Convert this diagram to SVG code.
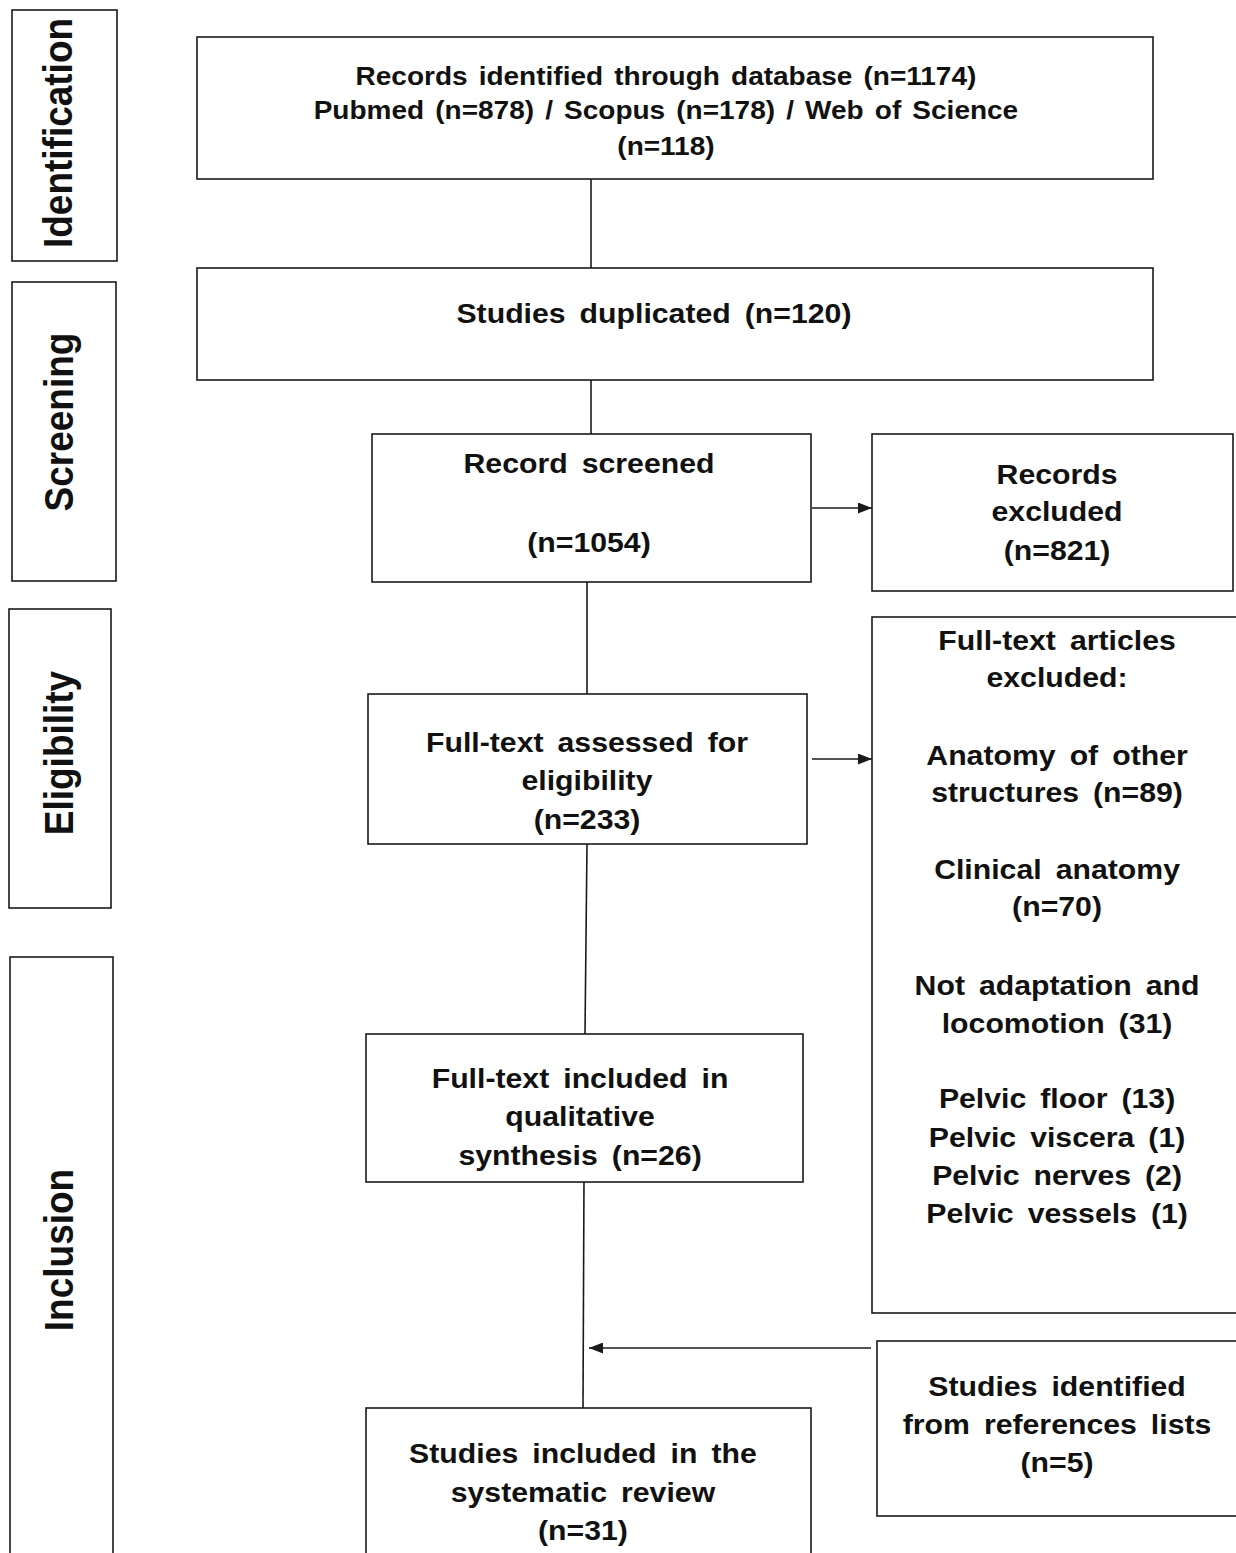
<svg xmlns="http://www.w3.org/2000/svg" width="1236" height="1553" viewBox="0 0 1236 1553">
<style>
.box{fill:#fff;stroke:#1a1a1a;stroke-width:1.6}
.t{font-family:"Liberation Sans",Arial,sans-serif;font-weight:bold;font-size:27px;fill:#111;text-anchor:middle;word-spacing:5px}
.t1{font-size:25px;word-spacing:3px}
.ph{font-family:"Liberation Sans",Arial,sans-serif;font-weight:bold;font-size:37px;fill:#111;text-anchor:middle}
.ln{stroke:#1a1a1a;stroke-width:1.6;fill:none}
</style>
<defs>
<marker id="ah" viewBox="0 0 14 11" refX="14" refY="5.5" markerWidth="14" markerHeight="11" markerUnits="userSpaceOnUse" orient="auto">
<path d="M0,0 L14,5.5 L0,11 Z" fill="#1a1a1a"/>
</marker>
</defs>
<rect width="1236" height="1553" fill="#fff"/>

<g id="phase-identification">
<rect class="box" x="12" y="10" width="105" height="251"/>
<text class="ph" transform="translate(72,133) scale(1.12,1) rotate(-90)">Identification</text>
</g>
<g id="phase-screening">
<rect class="box" x="12" y="282" width="104" height="299"/>
<text class="ph" transform="translate(73,422) scale(1.12,1) rotate(-90)">Screening</text>
</g>
<g id="phase-eligibility">
<rect class="box" x="9" y="609" width="102" height="299"/>
<text class="ph" transform="translate(73,753) scale(1.12,1) rotate(-90)">Eligibility</text>
</g>
<g id="phase-inclusion">
<rect class="box" x="10" y="957" width="103" height="620"/>
<text class="ph" transform="translate(73,1250) scale(1.12,1) rotate(-90)">Inclusion</text>
</g>

<g id="connectors">
<line class="ln" x1="591" y1="179" x2="591" y2="268"/>
<line class="ln" x1="591" y1="380" x2="591" y2="434"/>
<line class="ln" x1="587" y1="582" x2="587" y2="694"/>
<line class="ln" x1="587" y1="844" x2="585" y2="1034"/>
<line class="ln" x1="584" y1="1177" x2="583" y2="1408"/>
<line class="ln" x1="812" y1="508" x2="872" y2="508" marker-end="url(#ah)"/>
<line class="ln" x1="812" y1="759" x2="872" y2="759" marker-end="url(#ah)"/>
<line class="ln" x1="871" y1="1348" x2="589" y2="1348" marker-end="url(#ah)"/>
</g>

<g id="records-identified">
<rect class="box" x="197" y="37" width="956" height="142"/>
<text class="t t1" transform="scale(1.12,1)" x="594.6" y="85">Records identified through database (n=1174)</text>
<text class="t t1" transform="scale(1.12,1)" x="594.6" y="119">Pubmed (n=878) / Scopus (n=178) / Web of Science</text>
<text class="t t1" transform="scale(1.12,1)" x="594.6" y="155">(n=118)</text>
</g>
<g id="studies-duplicated">
<rect class="box" x="197" y="268" width="956" height="112"/>
<text class="t" transform="scale(1.12,1)" x="583.9" y="323">Studies duplicated  (n=120)</text>
</g>
<g id="record-screened">
<rect class="box" x="372" y="434" width="439" height="148"/>
<text class="t" transform="scale(1.12,1)" x="525.9" y="473">Record screened</text>
<text class="t" transform="scale(1.12,1)" x="525.9" y="552">(n=1054)</text>
</g>
<g id="records-excluded">
<rect class="box" x="872" y="434" width="361" height="157"/>
<text class="t" transform="scale(1.12,1)" x="943.8" y="484">Records</text>
<text class="t" transform="scale(1.12,1)" x="943.8" y="521">excluded</text>
<text class="t" transform="scale(1.12,1)" x="943.8" y="560">(n=821)</text>
</g>
<g id="fulltext-excluded">
<rect class="box" x="872" y="617" width="380" height="696"/>
<text class="t" transform="scale(1.12,1)" x="943.8" y="650">Full-text articles</text>
<text class="t" transform="scale(1.12,1)" x="943.8" y="687">excluded:</text>
<text class="t" transform="scale(1.12,1)" x="943.8" y="765">Anatomy  of other</text>
<text class="t" transform="scale(1.12,1)" x="943.8" y="802">structures (n=89)</text>
<text class="t" transform="scale(1.12,1)" x="943.8" y="879">Clinical  anatomy</text>
<text class="t" transform="scale(1.12,1)" x="943.8" y="916">(n=70)</text>
<text class="t" transform="scale(1.12,1)" x="943.8" y="995">Not adaptation  and</text>
<text class="t" transform="scale(1.12,1)" x="943.8" y="1033">locomotion  (31)</text>
<text class="t" transform="scale(1.12,1)" x="943.8" y="1108">Pelvic  floor (13)</text>
<text class="t" transform="scale(1.12,1)" x="943.8" y="1147">Pelvic  viscera  (1)</text>
<text class="t" transform="scale(1.12,1)" x="943.8" y="1185">Pelvic  nerves (2)</text>
<text class="t" transform="scale(1.12,1)" x="943.8" y="1223">Pelvic  vessels  (1)</text>
</g>
<g id="fulltext-assessed">
<rect class="box" x="368" y="694" width="439" height="150"/>
<text class="t" transform="scale(1.12,1)" x="524.1" y="752">Full-text assessed  for</text>
<text class="t" transform="scale(1.12,1)" x="524.1" y="790">eligibility</text>
<text class="t" transform="scale(1.12,1)" x="524.1" y="829">(n=233)</text>
</g>
<g id="fulltext-included">
<rect class="box" x="366" y="1034" width="437" height="148"/>
<text class="t" transform="scale(1.12,1)" x="517.9" y="1088">Full-text included  in</text>
<text class="t" transform="scale(1.12,1)" x="517.9" y="1126">qualitative</text>
<text class="t" transform="scale(1.12,1)" x="517.9" y="1165">synthesis  (n=26)</text>
</g>
<g id="studies-identified-references">
<rect class="box" x="877" y="1341" width="380" height="175"/>
<text class="t" transform="scale(1.12,1)" x="943.8" y="1396">Studies identified</text>
<text class="t" transform="scale(1.12,1)" x="943.8" y="1434">from references lists</text>
<text class="t" transform="scale(1.12,1)" x="943.8" y="1472">(n=5)</text>
</g>
<g id="studies-included">
<rect class="box" x="366" y="1408" width="445" height="170"/>
<text class="t" transform="scale(1.12,1)" x="520.5" y="1463">Studies included  in the</text>
<text class="t" transform="scale(1.12,1)" x="520.5" y="1502">systematic  review</text>
<text class="t" transform="scale(1.12,1)" x="520.5" y="1540">(n=31)</text>
</g>
</svg>
